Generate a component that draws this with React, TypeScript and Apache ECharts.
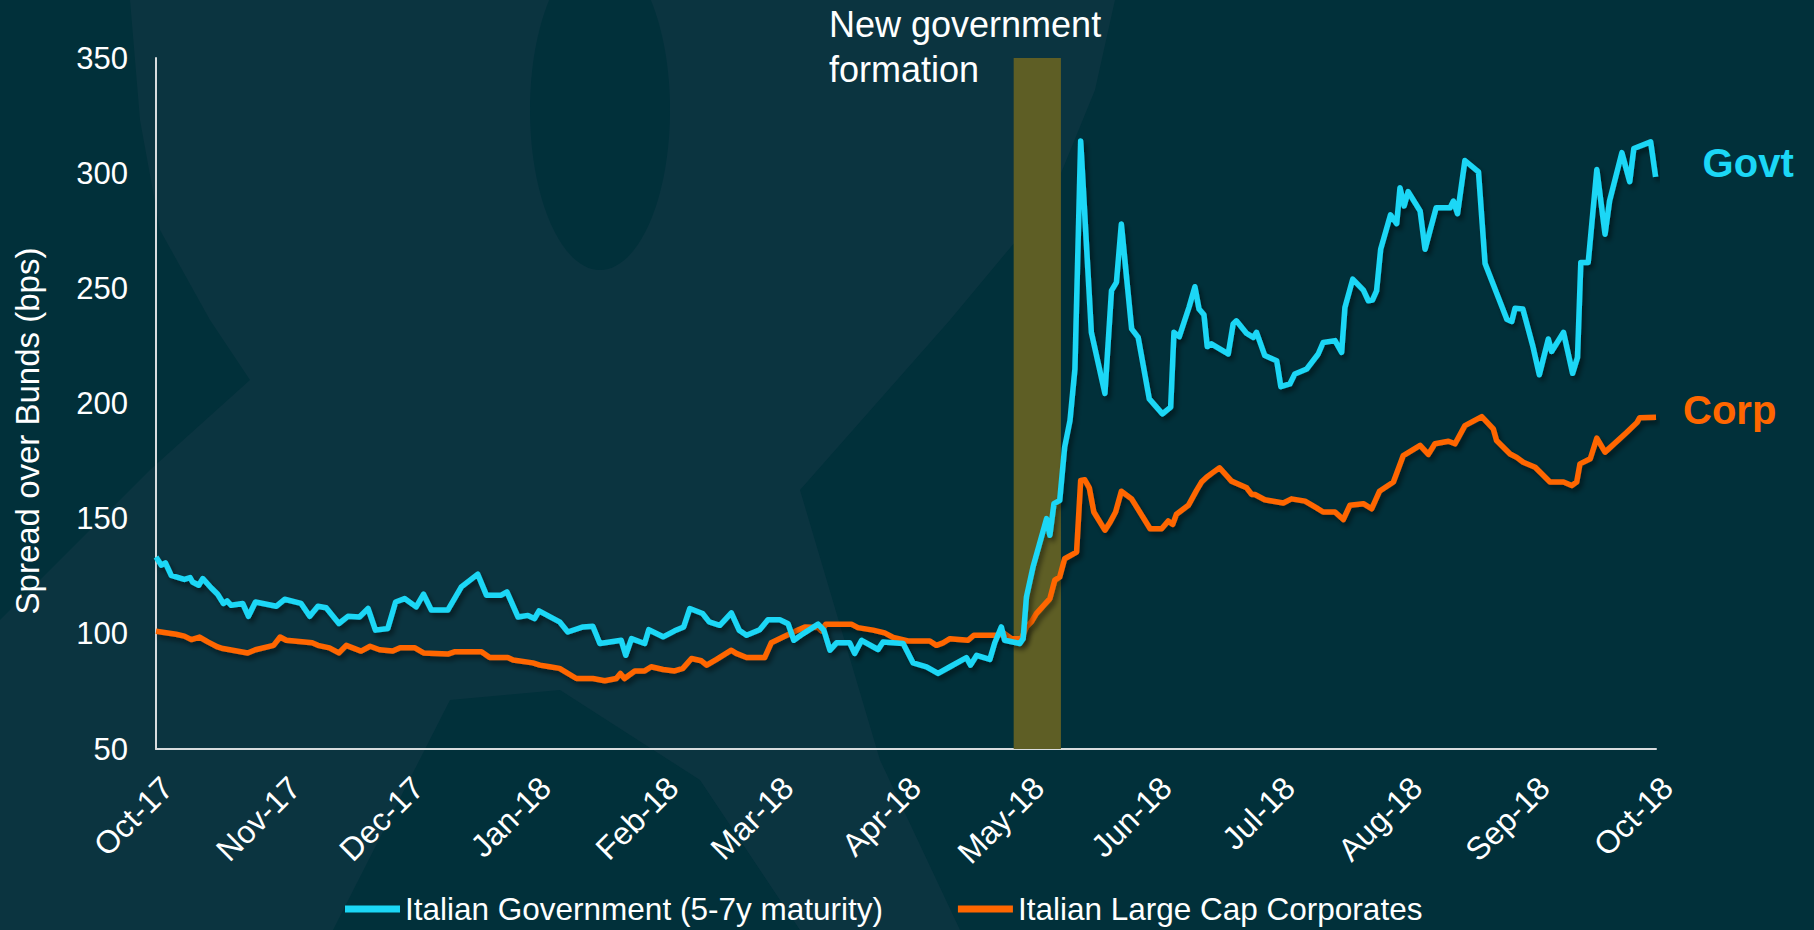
import React, { useEffect, useRef } from "react";
import * as echarts from "echarts";

// x axis: days since 1 Oct 2017
const monthStartDays = [0, 31, 61, 92, 123, 151, 182, 212, 243, 273, 304, 335, 365];
const monthLabels = [
  "Oct-17", "Nov-17", "Dec-17", "Jan-18", "Feb-18", "Mar-18", "Apr-18",
  "May-18", "Jun-18", "Jul-18", "Aug-18", "Sep-18", "Oct-18",
];
const yTicks = [50, 100, 150, 200, 250, 300, 350];

const govtName = "Italian Government (5-7y maturity)";
const corpName = "Italian Large Cap Corporates";

const govtDays = [
  0, 1.3, 2.3, 3.7, 6.9, 8.3, 8.9, 10.4, 11.4, 13.4, 15, 16.4, 17.3, 18.3, 21.1, 22.5, 24.2, 29.3,
  31.3, 35.3, 37.4, 39.4, 41.4, 44.5, 46.7, 49.5, 51.6, 53.4, 56.4, 58.3, 60.5, 63.3, 65.1, 67, 71,
  74.3, 78.3, 80.4, 84, 85.4, 88.1, 90.5, 92.1, 93.2, 95.8, 98.2, 100.2, 103.9, 106.3, 108, 113.2,
  114.3, 115.7, 118.9, 119.9, 123.4, 126.2, 128.4, 129.9, 133, 134.6, 137.2, 140, 141.9, 143.7,
  146.9, 148.9, 151.8, 153.8, 155.2, 157.5, 161.1, 162.5, 164, 165.6, 168.8, 170, 171.7, 175.7,
  176.9, 181.8, 184.2, 187.5, 190.3, 193.2, 197.2, 198.2, 199.7, 202.9, 204.1, 205.7, 206.5, 210.2,
  211, 211.8, 213.4, 216.7, 217.5, 218.5, 219.9, 221.1, 222.4, 223.6, 225, 227.6, 230.9, 232.5,
  233.7, 234.9, 237.4, 239, 241.7, 244.9, 246.9, 247.7, 249, 251.4, 252.8, 253.8, 255, 255.8,
  256.8, 260.9, 262.1, 262.9, 265.4, 267, 267.8, 269.8, 272.7, 273.7, 275.9, 277.1, 280, 282.8,
  284, 286.9, 288.5, 289.3, 291.2, 293.8, 295, 296, 297, 298, 300.4, 301.9, 302.7, 303.7, 304.7,
  307.6, 308.8, 311.5, 314.9, 315.7, 316.7, 318.5, 321.8, 323.4, 328.7, 329.9, 330.7, 332.6, 335,
  336.6, 338.8, 339.6, 342.5, 344.7, 345.9, 346.7, 348.5, 350.6, 352.6, 353.7, 356.7, 358.6, 359.6,
  363.7, 364.9,
];
const govtValues = [
  133.4, 129.8, 130.8, 125.4, 123.6, 124.4, 122.5, 121.1, 124, 120, 117.2, 113.2, 114.3, 112.4,
  113.2, 107.6, 113.8, 112, 115, 113.2, 107.6, 112, 111.3, 104.5, 107.6, 107.3, 111, 101.6, 102.3,
  113.8, 115.3, 111.7, 117.2, 110.3, 110.3, 120.4, 125.9, 116.8, 116.8, 118.2, 107.3, 108, 106.6,
  110, 107.5, 105.2, 100.8, 103, 103.3, 95.8, 97.2, 90.7, 97.9, 95.8, 101.8, 98.7, 101.3, 103, 111,
  108.8, 105.2, 103.7, 109.1, 101.6, 99.4, 101.8, 106.1, 106.1, 104.4, 97.2, 100.1, 104.2, 101.6,
  92.9, 96.1, 96.1, 91.5, 97.2, 93.2, 96.5, 95.8, 87.4, 85.7, 82.8, 85.7, 89.7, 86.4, 90.7, 88.9,
  96.1, 103, 97.2, 95.8, 97.9, 116, 129, 150, 142.8, 156.5, 157.9, 181, 192.6, 215, 314, 230.9,
  204.4, 249, 252.6, 277.9, 232.4, 228.7, 202, 195.5, 198.4, 230.9, 229, 242, 250.7, 241, 238.5,
  224.7, 225.9, 221.5, 234.5, 235.9, 230.4, 228.7, 230.9, 220.8, 218.6, 207.3, 208.5, 212.8, 215,
  221.5, 226.5, 227.3, 222.2, 241.7, 254, 249.2, 244.6, 244.9, 248.9, 267, 281.9, 278.1, 293.7,
  285.8, 292, 283.6, 267, 285, 285, 287.9, 282.4, 305.5, 300.6, 260.8, 236.6, 235.6, 241.4, 241,
  225.1, 212.5, 228, 222.6, 230.9, 213.1, 220, 261.2, 261.2, 301.6, 273.5, 287.9, 308.9, 296.3,
  310.7, 313.6, 298.4,
];

const corpDays = [
  0, 4.9, 6.9, 8.6, 10.6, 12.6, 15, 16.3, 22.3, 24.2, 28.6, 30.2, 31.7, 38, 39.4, 42.2, 44.5, 46.3,
  49.9, 52.1, 54.4, 57.6, 59.4, 62.9, 65.1, 71, 72.6, 79.2, 81.2, 85.6, 86.9, 91.7, 93.4, 95.8,
  98.2, 102.3, 106.3, 109.2, 112, 113, 114, 116.5, 118.9, 120.5, 123.4, 126.2, 128.2, 130.3, 132.7,
  134, 136.4, 140, 141.2, 143.7, 148.1, 149.7, 152.6, 155.8, 157.9, 161.1, 161.9, 163, 166, 169.2,
  170.8, 174.5, 177.3, 179.4, 183, 188.3, 189.9, 191.5, 193.2, 197.6, 199, 205.3, 206.5, 208.2,
  210.6, 211.8, 213, 214.2, 217.5, 218.7, 219.9, 221.1, 224, 225, 226, 227.1, 228.2, 230.9, 232.2,
  233.5, 234.9, 237.4, 241.9, 244.7, 246.3, 247.4, 248.3, 251.2, 253.2, 254.4, 255.7, 257.3, 258.8,
  261.7, 265.4, 266.6, 267.4, 269.8, 274.3, 276.3, 279.6, 282.4, 284, 286.9, 288.9, 290.5, 293.8,
  295.8, 297.7, 301.1, 303.5, 307.6, 309.6, 311.2, 314.5, 316.1, 318.5, 322.6, 325.4, 326.2, 329.5,
  331.1, 332.7, 335.6, 339.2, 342.5, 344.5, 345.7, 346.5, 349, 350.6, 352.6, 357.9, 360.4, 361, 365,
];
const corpValues = [
  101.1, 99.8, 99, 97.5, 98.6, 96.5, 94.3, 93.6, 91.7, 93.1, 95, 98.6, 97.2, 96.1, 95, 93.9, 91.7,
  95, 92.5, 94.6, 93.1, 92.5, 94, 94, 91.7, 91.2, 92.2, 92.2, 89.7, 89.7, 88.6, 87.4, 86.4, 85.7,
  85, 80.6, 80.6, 79.6, 80.6, 82.8, 80.6, 83.9, 83.9, 85.7, 84.5, 83.9, 85, 89.3, 88.3, 86.4, 88.9,
  92.9, 91.5, 89.7, 89.7, 96.1, 98.6, 101.3, 103, 102.7, 101.3, 104.2, 104.2, 104.2, 102.7, 101.6,
  100.4, 98.4, 96.9, 96.9, 95, 96.1, 97.9, 97.2, 99.4, 99.4, 100.1, 97.9, 97.9, 103, 105.2, 108.8,
  115.3, 123.3, 124.7, 132.6, 135.5, 166.6, 166.9, 163.4, 152.9, 145, 148.6, 152.9, 161.9, 158.6,
  145.6, 145.6, 149, 147.5, 151.9, 155.8, 162.3, 165.9, 168.1, 170.2, 172.1, 166.3, 163.4, 160.5,
  160.5, 158.2, 156.8, 158.6, 157.6, 154.7, 152.9, 152.9, 149.6, 155.8, 156.5, 154.3, 161.9, 165.9,
  177.4, 181.8, 177.9, 182.5, 183.6, 182.5, 190.4, 194.3, 189, 183.9, 178.1, 176.6, 174.5, 172.3,
  165.9, 165.9, 164.4, 165.9, 173.8, 176, 185, 178.9, 187.5, 191.8, 193.8, 194,
];

const bandStartDay = 208.7;
const bandEndDay = 220.2;

const GOVT_COLOR = "#1bd7f6";
const CORP_COLOR = "#ff6600";
const FONT = '"Liberation Sans", Arial, sans-serif';
const DARK = "#01303a";

export default function App() {
  const ref = useRef<HTMLDivElement>(null);

  useEffect(() => {
    const chart = echarts.init(ref.current!, null, { renderer: "svg" });
    const shadow = {
      shadowColor: "rgba(0,0,0,0.45)",
      shadowBlur: 5,
      shadowOffsetX: 3,
      shadowOffsetY: 4,
    };
    chart.setOption({
      animation: false,
      backgroundColor: "#0b3440",
      textStyle: { fontFamily: FONT },
      grid: { left: 156, right: 158, top: 58, bottom: 181, containLabel: false },
      xAxis: {
        type: "value",
        min: 0,
        max: 365,
        splitLine: { show: false },
        axisLine: { show: true, lineStyle: { color: "#d8dcde", width: 2 } },
        axisTick: { show: false, customValues: monthStartDays },
        axisLabel: {
          customValues: monthStartDays,
          formatter: (v: number) => {
            const i = monthStartDays.indexOf(v);
            return i >= 0 ? monthLabels[i] : "";
          },
          rotate: 45,
          verticalAlign: "top",
          margin: 22,
          color: "#ffffff",
          fontSize: 32,
          fontFamily: FONT,
        },
      },
      yAxis: {
        type: "value",
        min: yTicks[0],
        max: yTicks[yTicks.length - 1],
        interval: 50,
        splitLine: { show: false },
        axisLine: { show: true, lineStyle: { color: "#d8dcde", width: 2 } },
        axisTick: { show: false },
        axisLabel: { color: "#ffffff", fontSize: 31, margin: 28, fontFamily: FONT },
      },
      legend: {
        data: [govtName, corpName],
        left: 345,
        top: 893,
        padding: 0,
        icon: "rect",
        itemWidth: 55,
        itemHeight: 7,
        itemGap: 75,
        textStyle: { color: "#ffffff", fontSize: 31.5, fontFamily: FONT },
      },
      graphic: [
        {
          type: "polygon",
          z: -10,
          silent: true,
          shape: {
            points: [[0, 0], [130, 0], [140, 120], [160, 230], [210, 320], [250, 380], [150, 470], [60, 560], [0, 620]],
          },
          style: { fill: DARK },
        },
        {
          type: "ellipse",
          z: -10,
          silent: true,
          shape: { cx: 600, cy: 110, rx: 70, ry: 160 },
          style: { fill: DARK },
        },
        {
          type: "polygon",
          z: -10,
          silent: true,
          shape: {
            points: [[1115, 0], [1814, 0], [1814, 930], [960, 930], [880, 760], [800, 490], [950, 320], [1050, 200], [1095, 90]],
          },
          style: { fill: DARK },
        },
        {
          type: "polygon",
          z: -10,
          silent: true,
          shape: {
            points: [[333, 930], [450, 700], [560, 690], [700, 780], [800, 930]],
          },
          style: { fill: DARK },
        },
        {
          type: "text",
          left: 829,
          top: 2,
          z: 10,
          style: {
            text: "New government\nformation",
            fill: "#ffffff",
            font: `36px ${FONT}`,
            lineHeight: 45,
          },
        },
        {
          type: "text",
          x: 27,
          y: 431,
          rotation: Math.PI / 2,
          z: 10,
          style: {
            text: "Spread over Bunds (bps)",
            fill: "#ffffff",
            font: `33px ${FONT}`,
            align: "center",
            verticalAlign: "middle",
          },
        },
      ],
      series: [
        {
          name: "band",
          type: "line",
          data: [[bandStartDay, 50]],
          symbol: "none",
          lineStyle: { opacity: 0 },
          clip: false,
          z: 1,
          silent: true,
          markArea: {
            silent: true,
            itemStyle: { color: "#5e5e25" },
            data: [[{ xAxis: bandStartDay, yAxis: 50 }, { xAxis: bandEndDay, yAxis: 352 }]],
          },
        },
        {
          name: corpName,
          type: "line",
          data: corpDays.map((d, i) => [d, corpValues[i]]),
          symbol: "none",
          z: 3,
          itemStyle: { color: CORP_COLOR },
          lineStyle: { color: CORP_COLOR, width: 5.5, join: "round", ...shadow },
          endLabel: {
            show: true,
            formatter: "Corp",
            color: CORP_COLOR,
            fontSize: 40,
            fontWeight: "bold",
            fontFamily: FONT,
            distance: 27,
            offset: [0, -7],
          },
        },
        {
          name: govtName,
          type: "line",
          data: govtDays.map((d, i) => [d, govtValues[i]]),
          symbol: "none",
          z: 4,
          itemStyle: { color: GOVT_COLOR },
          lineStyle: { color: GOVT_COLOR, width: 5.5, join: "round", ...shadow },
          endLabel: {
            show: true,
            formatter: "Govt",
            color: GOVT_COLOR,
            fontSize: 40,
            fontWeight: "bold",
            fontFamily: FONT,
            distance: 47,
            offset: [0, -14],
          },
        },
      ],
    });
    return () => chart.dispose();
  }, []);

  return (
    <div
      ref={ref}
      style={{ position: "fixed", left: 0, top: 0, width: 1814, height: 930 }}
    />
  );
}
